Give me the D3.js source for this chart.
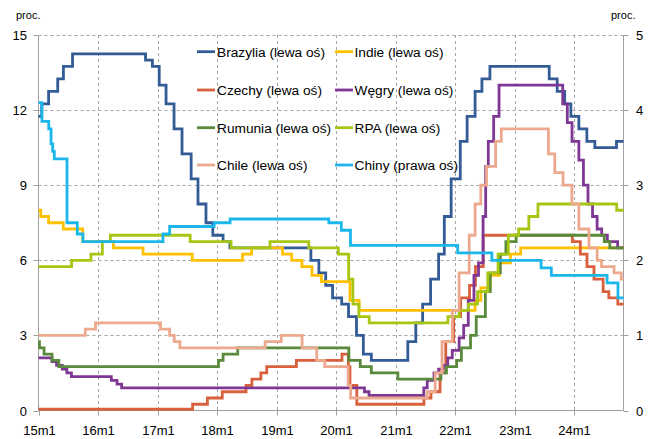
<!DOCTYPE html>
<html>
<head>
<meta charset="utf-8">
<script src="https://cdn.jsdelivr.net/npm/d3@7"></script>
<style>
  html, body { margin: 0; padding: 0; background: #fff; }
  svg { display: block; font-family: "Liberation Sans", Arial, sans-serif; }
</style>
</head>
<body>
<svg id="chart" width="650" height="439"></svg>
<script>
// ---------- data (policy rates, step changes: [date, value]) ----------
const brazylia = [["2015-01-01",11.75],["2015-01-21",12.25],["2015-03-04",12.75],["2015-04-29",13.25],["2015-06-03",13.75],["2015-07-29",14.25],["2016-10-19",14.0],["2016-11-30",13.75],["2017-01-11",13.0],["2017-02-22",12.25],["2017-04-12",11.25],["2017-05-31",10.25],["2017-07-26",9.25],["2017-09-06",8.25],["2017-10-25",7.5],["2017-12-06",7.0],["2018-02-07",6.75],["2018-03-21",6.5],["2019-07-31",6.0],["2019-09-18",5.5],["2019-10-30",5.0],["2019-12-11",4.5],["2020-02-05",4.25],["2020-03-18",3.75],["2020-05-06",3.0],["2020-06-17",2.25],["2020-08-05",2.0],["2021-03-17",2.75],["2021-05-05",3.5],["2021-06-16",4.25],["2021-08-04",5.25],["2021-09-22",6.25],["2021-10-27",7.75],["2021-12-08",9.25],["2022-02-02",10.75],["2022-03-16",11.75],["2022-05-04",12.75],["2022-06-15",13.25],["2022-08-03",13.75],["2023-08-02",13.25],["2023-09-20",12.75],["2023-11-05",12.25],["2023-12-13",11.75],["2024-01-31",11.25],["2024-03-20",10.75],["2024-05-08",10.5],["2024-09-18",10.75]];

const indie = [["2015-01-01",8.0],["2015-01-15",7.75],["2015-03-04",7.5],["2015-06-02",7.25],["2015-09-29",6.75],["2016-04-05",6.5],["2016-10-04",6.25],["2017-08-02",6.0],["2018-06-06",6.25],["2018-08-01",6.5],["2019-02-07",6.25],["2019-04-04",6.0],["2019-06-06",5.75],["2019-08-07",5.4],["2019-10-04",5.15],["2020-03-27",4.4],["2020-05-22",4.0],["2022-05-04",4.4],["2022-06-08",4.9],["2022-08-05",5.4],["2022-09-30",5.9],["2022-12-07",6.25],["2023-02-08",6.5]];

const czechy = [["2015-01-01",0.05],["2017-08-04",0.25],["2017-11-03",0.5],["2018-02-02",0.75],["2018-06-28",1.0],["2018-08-03",1.25],["2018-09-27",1.5],["2018-11-02",1.75],["2019-05-03",2.0],["2020-02-07",2.25],["2020-03-17",1.75],["2020-03-27",1.0],["2020-05-08",0.25],["2021-06-24",0.5],["2021-08-06",0.75],["2021-10-01",1.5],["2021-11-05",2.75],["2021-12-23",3.75],["2022-02-04",4.5],["2022-03-31",5.0],["2022-05-06",5.75],["2022-06-23",7.0],["2023-12-22",6.75],["2024-02-09",6.25],["2024-03-21",5.75],["2024-05-03",5.25],["2024-06-28",4.75],["2024-08-02",4.5],["2024-09-26",4.25]];

const wegry = [["2015-01-01",2.1],["2015-03-25",1.95],["2015-04-22",1.8],["2015-05-27",1.65],["2015-06-24",1.5],["2015-07-22",1.35],["2016-03-23",1.2],["2016-04-27",1.05],["2016-05-25",0.9],["2020-06-24",0.75],["2020-07-22",0.6],["2021-06-23",0.9],["2021-07-14",1.2],["2021-08-25",1.5],["2021-09-22",1.65],["2021-10-20",1.8],["2021-11-17",2.1],["2021-12-15",2.4],["2022-01-26",2.9],["2022-02-23",3.4],["2022-03-23",4.4],["2022-04-27",5.4],["2022-05-25",5.9],["2022-06-22",7.75],["2022-07-08",9.75],["2022-07-24",10.75],["2022-08-26",11.75],["2022-09-28",13.0],["2023-10-24",12.25],["2023-11-21",11.5],["2023-12-20",10.75],["2024-01-31",10.0],["2024-02-28",9.0],["2024-03-27",8.25],["2024-04-24",7.75],["2024-05-22",7.25],["2024-06-19",7.0],["2024-07-24",6.75],["2024-09-25",6.5]];

const rumunia = [["2015-01-01",2.75],["2015-01-07",2.5],["2015-02-04",2.25],["2015-03-25",2.0],["2015-05-06",1.75],["2018-01-10",2.0],["2018-02-07",2.25],["2018-05-08",2.5],["2020-03-20",2.0],["2020-05-29",1.75],["2020-08-05",1.5],["2021-01-15",1.25],["2021-10-06",1.5],["2021-11-09",1.75],["2022-01-11",2.0],["2022-02-09",2.5],["2022-04-06",3.0],["2022-05-11",3.75],["2022-07-06",4.75],["2022-08-05",5.5],["2022-10-06",6.25],["2022-11-09",6.75],["2023-01-11",7.0],["2024-07-05",6.75],["2024-08-08",6.5]];

const rpa = [["2015-01-01",5.75],["2015-07-23",6.0],["2015-11-19",6.25],["2016-01-28",6.75],["2016-03-17",7.0],["2017-07-20",6.75],["2018-03-28",6.5],["2018-11-22",6.75],["2019-07-18",6.5],["2020-01-16",6.25],["2020-03-19",5.25],["2020-04-14",4.25],["2020-05-21",3.75],["2020-07-23",3.5],["2021-11-18",3.75],["2022-01-27",4.0],["2022-03-24",4.25],["2022-05-19",4.75],["2022-07-21",5.5],["2022-09-22",6.25],["2022-11-24",7.0],["2023-01-26",7.25],["2023-03-30",7.75],["2023-05-25",8.25],["2024-09-19",8.0]];

const chile = [["2015-01-01",3.0],["2015-10-15",3.25],["2015-12-17",3.5],["2017-01-19",3.25],["2017-03-16",3.0],["2017-04-13",2.75],["2017-05-18",2.5],["2018-10-23",2.75],["2019-01-30",3.0],["2019-06-07",2.5],["2019-09-05",2.0],["2019-10-24",1.75],["2020-03-16",1.0],["2020-03-31",0.5],["2021-07-14",0.75],["2021-09-01",1.5],["2021-10-13",2.75],["2021-12-15",4.0],["2022-01-26",5.5],["2022-03-29",7.0],["2022-05-04",8.25],["2022-06-08",9.0],["2022-07-13",9.75],["2022-09-07",10.75],["2022-10-12",11.25],["2023-07-28",10.25],["2023-09-05",9.5],["2023-10-26",9.0],["2023-12-19",8.25],["2024-01-31",7.25],["2024-04-02",6.5],["2024-05-22",6.0],["2024-06-18",5.75],["2024-09-03",5.5],["2024-10-17",5.25]];

// right axis
const chiny = [["2015-01-01",4.1],["2015-01-22",3.85],["2015-03-05",3.75],["2015-03-19",3.55],["2015-03-29",3.45],["2015-04-08",3.35],["2015-06-25",2.5],["2015-08-27",2.35],["2015-10-01",2.25],["2017-02-03",2.35],["2017-03-16",2.45],["2017-12-14",2.5],["2018-03-22",2.55],["2019-11-18",2.5],["2020-02-03",2.4],["2020-03-30",2.2],["2022-01-17",2.1],["2022-08-15",2.0],["2023-06-13",1.9],["2023-08-15",1.8],["2024-07-22",1.7],["2024-09-27",1.5]];

const seriesNames = ["Brazylia (lewa oś)","Indie (lewa oś)","Czechy (lewa oś)","Węgry (lewa oś)","Rumunia (lewa oś)","RPA (lewa oś)","Chile (lewa oś)","Chiny (prawa oś)"];
const seriesData  = [brazylia, indie, czechy, wegry, rumunia, rpa, chile, chiny];
const seriesAxis  = ["left","left","left","left","left","left","left","right"];
const seriesColors = ["#335B95","#FFC000","#D9603D","#7F3795","#5A8A3B","#A6C614","#ECA98E","#1CB7EA"];

const xStart = "2015-01-01", xEnd = "2024-10-31";
const xTickYears = [2015,2016,2017,2018,2019,2020,2021,2022,2023,2024];
const xTickLabels = ["15m1","16m1","17m1","18m1","19m1","20m1","21m1","22m1","23m1","24m1"];
const leftTicks = [0,3,6,9,12,15];
const rightTicks = [0,1,2,3,4,5];

// ---------- drawing ----------
const svg = d3.select("#chart");
const parse = d3.utcParse("%Y-%m-%d");
const L = 38.5, R = 623.5, T = 35, B = 410.5;

const x = d3.scaleUtc().domain([parse(xStart), parse(xEnd)]).range([L, R]);
const yL = d3.scaleLinear().domain([0, 15]).range([B, T]);
const yR = d3.scaleLinear().domain([0, 5]).range([B, T]);

const gridColor = "#A6A6A6";
const grid = svg.append("g");
grid.selectAll("line.h").data(leftTicks.filter(d => d > 0)).join("line")
  .attr("x1", L).attr("x2", R)
  .attr("y1", d => Math.round(yL(d)) + 0.5).attr("y2", d => Math.round(yL(d)) + 0.5)
  .attr("stroke", gridColor).attr("stroke-width", 1).attr("stroke-dasharray", "3,3");
grid.selectAll("line.v").data(xTickYears.slice(1)).join("line")
  .attr("x1", d => Math.round(x(Date.UTC(d,0,1))) + 0.5).attr("x2", d => Math.round(x(Date.UTC(d,0,1))) + 0.5)
  .attr("y1", T).attr("y2", B)
  .attr("stroke", gridColor).attr("stroke-width", 1).attr("stroke-dasharray", "3,3");

const axisColor = "#A0A0A0";
svg.append("line").attr("x1", L).attr("x2", L).attr("y1", T).attr("y2", B).attr("stroke", axisColor);
svg.append("line").attr("x1", R).attr("x2", R).attr("y1", T).attr("y2", B).attr("stroke", axisColor);
svg.append("line").attr("x1", L).attr("x2", R).attr("y1", B).attr("y2", B).attr("stroke", axisColor);

const xt = svg.append("g");
xTickYears.forEach((yr, i) => {
  const px = Math.round(x(Date.UTC(yr,0,1))) + 0.5;
  xt.append("line").attr("x1", px).attr("x2", px).attr("y1", B).attr("y2", B + 5).attr("stroke", axisColor);
  xt.append("text").attr("x", px).attr("y", B + 24).attr("text-anchor", "middle")
    .attr("font-size", 13).attr("fill", "#000").text(xTickLabels[i]);
});
leftTicks.forEach(v => {
  const py = yL(v);
  svg.append("line").attr("x1", L - 5).attr("x2", L).attr("y1", Math.round(py)+0.5).attr("y2", Math.round(py)+0.5).attr("stroke", axisColor);
  svg.append("text").attr("x", 27).attr("y", py + 5).attr("text-anchor", "end")
    .attr("font-size", 13).attr("fill", "#000").text(v);
});
rightTicks.forEach(v => {
  const py = yR(v);
  svg.append("line").attr("x1", R).attr("x2", R + 5).attr("y1", Math.round(py)+0.5).attr("y2", Math.round(py)+0.5).attr("stroke", axisColor);
  svg.append("text").attr("x", 636).attr("y", py + 5).attr("text-anchor", "start")
    .attr("font-size", 13).attr("fill", "#000").text(v);
});
svg.append("text").attr("x", 16).attr("y", 19).attr("font-size", 11).attr("fill", "#000").text("proc.");
svg.append("text").attr("x", 611).attr("y", 19).attr("font-size", 11).attr("fill", "#000").text("proc.");

const endDate = parse(xEnd);
const lines = svg.append("g");
seriesData.forEach((data, i) => {
  const yS = seriesAxis[i] === "right" ? yR : yL;
  const pts = data.map(d => [parse(d[0]), d[1]]);
  pts.push([endDate, data[data.length - 1][1]]);
  const line = d3.line().x(d => x(d[0])).y(d => yS(d[1])).curve(d3.curveStepAfter);
  lines.append("path").attr("d", line(pts)).attr("fill", "none")
    .attr("stroke", seriesColors[i]).attr("stroke-width", 2.8)
    .attr("stroke-linejoin", "miter").attr("stroke-linecap", "butt");
});

const legend = svg.append("g");
const legCols = [{lx1: 197, lx2: 215, tx: 217}, {lx1: 335, lx2: 353, tx: 354.5}];
const legRows = [51.7, 90, 127.7, 165];
seriesNames.forEach((name, i) => {
  const c = legCols[i % 2], r = legRows[Math.floor(i / 2)];
  legend.append("line").attr("x1", c.lx1).attr("x2", c.lx2).attr("y1", r).attr("y2", r)
    .attr("stroke", seriesColors[i]).attr("stroke-width", 2.8);
  legend.append("text").attr("x", c.tx).attr("y", r + 5).attr("font-size", 13.7).attr("fill", "#000").text(name);
});
</script>
</body>
</html>
